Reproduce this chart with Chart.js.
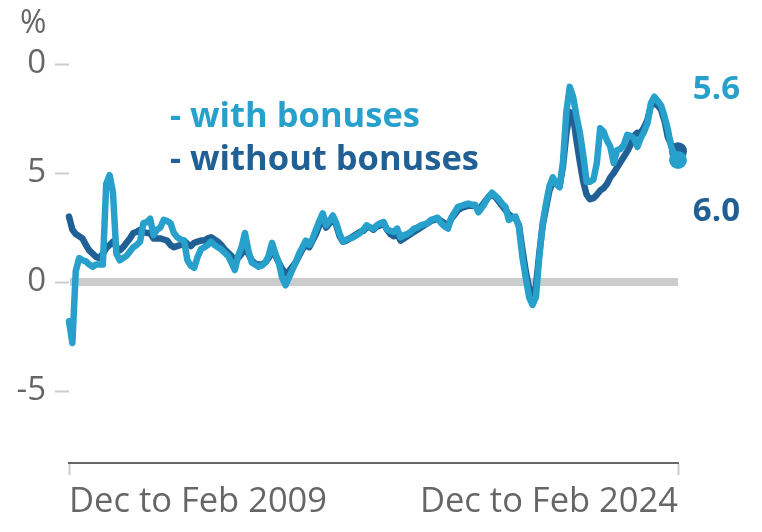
<!DOCTYPE html>
<html><head><meta charset="utf-8">
<script src="https://cdn.jsdelivr.net/npm/chart.js@4"></script>
<style>html,body{margin:0;padding:0;background:#fff}#wrap{width:762px;height:532px;position:relative}</style>
</head><body><div id="wrap"><canvas id="c"></canvas></div>
<script>
const withBonuses = [-1.8,-2.8,0.5,1.1,1.0,0.95,0.8,0.7,0.8,0.8,0.8,4.5,4.9,4.1,1.3,1.0,1.1,1.2,1.4,1.6,1.7,1.85,2.7,2.75,2.9,2.15,2.4,2.5,2.85,2.8,2.7,2.25,2.05,1.95,1.9,1.0,0.75,0.65,1.15,1.5,1.6,1.7,1.85,1.7,1.6,1.5,1.35,1.2,0.9,0.55,1.2,1.6,2.25,1.45,0.9,0.8,0.7,0.75,0.9,1.2,1.8,1.3,0.9,0.2,-0.15,0.2,0.55,0.9,1.3,1.6,1.9,1.7,2.0,2.4,2.8,3.15,2.6,2.8,3.05,2.7,2.2,1.85,1.95,2.0,2.05,2.15,2.25,2.4,2.6,2.5,2.45,2.6,2.7,2.75,2.4,2.35,2.3,2.45,2.05,2.15,2.2,2.3,2.45,2.5,2.6,2.65,2.7,2.85,2.9,2.95,2.7,2.55,2.45,2.95,3.2,3.45,3.5,3.55,3.6,3.55,3.55,3.2,3.4,3.65,3.9,4.1,3.95,3.8,3.6,3.45,2.85,2.95,3.0,2.5,1.15,0.2,-0.7,-1.05,-0.7,1.15,2.7,3.6,4.4,4.8,4.5,4.35,5.5,7.8,8.95,8.5,7.6,6.85,5.8,4.6,4.6,4.7,5.45,7.05,6.9,6.5,6.2,5.45,6.05,6.1,6.3,6.75,6.7,6.6,6.2,6.6,6.9,7.3,8.2,8.5,8.3,8.1,7.6,7.0,6.2,5.8,5.6];
const withoutBonuses = [3.0,2.4,2.2,2.1,2.0,1.7,1.45,1.3,1.15,1.1,1.3,1.55,1.7,1.85,1.6,1.45,1.6,1.8,2.0,2.25,2.3,2.4,2.3,2.25,2.25,2.0,2.0,2.0,1.95,1.9,1.7,1.6,1.65,1.7,1.9,1.75,1.65,1.8,1.85,1.9,1.9,2.0,2.05,1.95,1.85,1.7,1.5,1.35,1.2,1.0,1.1,1.3,1.5,1.3,1.0,0.85,0.8,0.8,0.9,1.1,1.4,1.2,0.9,0.6,0.4,0.5,0.7,0.9,1.2,1.5,1.7,1.6,1.9,2.2,2.6,2.9,2.5,2.7,2.9,2.6,2.1,1.85,1.9,2.0,2.1,2.2,2.3,2.35,2.5,2.5,2.4,2.55,2.6,2.7,2.4,2.2,2.1,2.2,1.9,2.0,2.1,2.2,2.3,2.4,2.5,2.6,2.7,2.8,2.85,2.9,2.8,2.7,2.6,2.9,3.1,3.3,3.4,3.45,3.5,3.5,3.5,3.3,3.5,3.7,3.9,4.0,3.9,3.7,3.5,3.3,3.1,3.0,2.9,2.6,1.5,0.5,-0.3,-0.6,-0.2,1.3,2.6,3.4,4.2,4.6,4.5,4.4,5.3,6.8,7.8,7.6,6.5,5.5,4.6,4.0,3.8,3.85,4.0,4.2,4.3,4.5,4.8,5.0,5.25,5.5,5.75,6.0,6.3,6.7,6.85,6.85,7.1,7.45,8.1,8.2,8.1,7.9,7.4,6.65,6.3,6.1,6.0];
const monthNames = ["Dec to Feb","Jan to Mar","Feb to Apr","Mar to May","Apr to Jun","May to Jul","Jun to Aug","Jul to Sep","Aug to Oct","Sep to Nov","Oct to Dec","Nov to Jan"];
const startYear = 2009;
const periods = [];
for (let i = 0; i < withBonuses.length; i++) {
  const m = i % 12;
  const y = startYear + Math.floor(i / 12) + (m === 11 ? 1 : 0);
  periods.push(monthNames[m] + " " + y);
}
const yTickValues = [10, 5, 0, -5];
const yTickLabels = ["0", "5", "0", "-5"];
const seriesNames = ["- with bonuses", "- without bonuses"];
const LIGHT = "#27a0cc", DARK = "#206095", GREY = "#666666";
const FONT = "'Open Sans', 'Noto Sans', sans-serif";

const extras = {
  id: 'extras',
  beforeDatasetsDraw(chart) {
    const {ctx, chartArea, scales:{y}} = chart;
    const yy = y.getPixelForValue(0);
    ctx.save();
    ctx.strokeStyle = '#cccccc'; ctx.lineWidth = 8;
    ctx.beginPath(); ctx.moveTo(chartArea.left + 1, yy); ctx.lineTo(chartArea.right, yy); ctx.stroke();
    ctx.restore();
  },
  afterDraw(chart) {
    const {ctx} = chart;
    ctx.save();
    ctx.textBaseline = 'middle';
    ctx.fillStyle = GREY; ctx.font = "32px " + FONT; ctx.textAlign = 'left';
    ctx.fillText('%', 20, 24);
    ctx.font = "bold 34.5px " + FONT;
    ctx.fillStyle = LIGHT; ctx.fillText(seriesNames[0], 170, 117);
    ctx.fillStyle = DARK; ctx.fillText(seriesNames[1], 170, 160);
    ctx.font = "bold 33px " + FONT; ctx.textAlign = 'right';
    ctx.fillStyle = LIGHT; ctx.fillText(withBonuses[withBonuses.length-1].toFixed(1), 740, 90);
    ctx.fillStyle = DARK; ctx.fillText(withoutBonuses[withoutBonuses.length-1].toFixed(1), 740, 212);
    ctx.restore();
  }
};

const last = withBonuses.length - 1;
new Chart(document.getElementById('c'), {
  type: 'line',
  data: {
    labels: periods,
    datasets: [
      {label: seriesNames[0], data: withBonuses, borderColor: LIGHT, backgroundColor: LIGHT, borderWidth: 6.5, order: 0,
       pointRadius: c => c.dataIndex === last ? 9 : 0, pointBorderWidth: 0, tension: 0, borderJoinStyle: 'round', borderCapStyle: 'round'},
      {label: seriesNames[1], data: withoutBonuses, borderColor: DARK, backgroundColor: DARK, borderWidth: 6.5, order: 1,
       pointRadius: c => c.dataIndex === last ? 9 : 0, pointBorderWidth: 0, tension: 0, borderJoinStyle: 'round', borderCapStyle: 'round'}
    ]
  },
  options: {
    responsive: true, maintainAspectRatio: false, animation: false,
    layout: {padding: {top: 64, right: 84, left: 0, bottom: 0}},
    plugins: {legend: {display: false}, tooltip: {enabled: false}},
    scales: {
      x: {
        type: 'category', offset: false,
        afterFit: s => { s.height = 69; },
        border: {display: true, color: '#666666', width: 2},
        grid: {drawOnChartArea: false, drawTicks: true, tickLength: 12, tickWidth: 2,
               tickColor: c => (c.index === 0 || c.index === last) ? '#cccccc' : 'rgba(0,0,0,0)'},
        ticks: {autoSkip: false, maxRotation: 0, align: 'inner', padding: 6, color: GREY, font: {family: FONT, size: 34.5},
                callback: (v, i) => (i === 0 || i === last) ? periods[i] : ''}
      },
      y: {
        min: -8.3, max: 10,
        afterFit: s => { s.width = 69; },
        afterBuildTicks: s => { s.ticks = yTickValues.map(v => ({value: v})); },
        border: {display: false},
        grid: {drawOnChartArea: false, drawTicks: true, tickLength: 14, tickWidth: 2, color: '#cccccc', tickColor: '#cccccc'},
        ticks: {padding: 9, color: GREY, font: {family: FONT, size: 33},
                callback: v => yTickLabels[yTickValues.indexOf(v)]}
      }
    }
  },
  plugins: [extras]
});
</script></body></html>
